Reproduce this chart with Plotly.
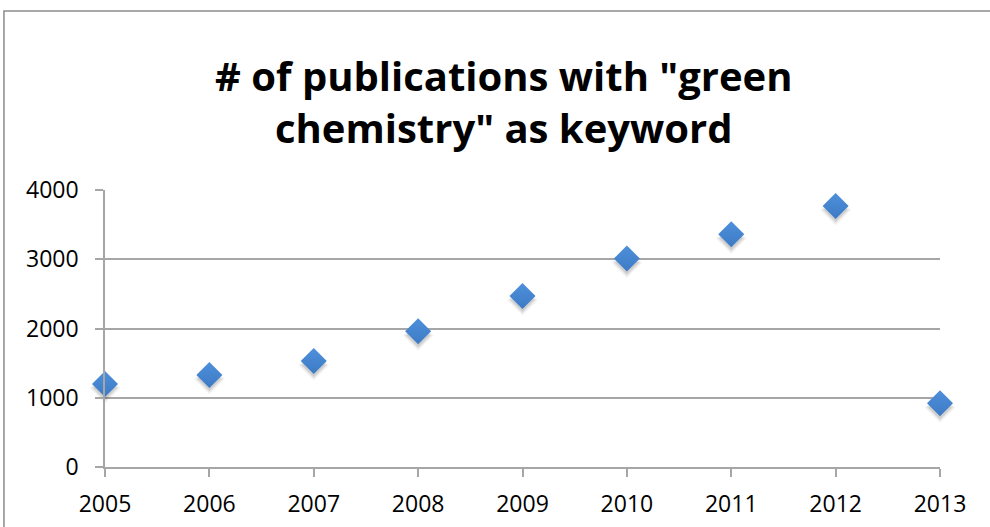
import plotly.graph_objects as go

# Publications per year with "green chemistry" as keyword
years = [2005, 2006, 2007, 2008, 2009, 2010, 2011, 2012, 2013]
publications = [1200, 1330, 1530, 1960, 2470, 3010, 3360, 3770, 920]
y_ticks = [0, 1000, 2000, 3000, 4000]

title_lines = ['# of publications with "green', 'chemistry" as keyword']

font_family = "Open Sans, Liberation Sans, sans-serif"
grid_color = "#a6a6a6"
marker_top = "#4e90dc"
marker_bottom = "#3d7ac4"

fig = go.Figure()

# hover layer on the main axes (keeps the axes, ticks and grid drawn)
fig.add_trace(go.Scatter(
    x=years, y=publications, mode="markers",
    marker=dict(symbol="diamond", size=20, opacity=0),
    hovertemplate="%{x}: %{y}<extra></extra>", showlegend=False,
))

# soft drop shadow under each marker (drawn on slightly shifted overlay axes)
for size, alpha in [(24, 0.04), (21, 0.07), (18, 0.09)]:
    fig.add_trace(go.Scatter(
        x=years, y=publications, mode="markers",
        xaxis="x2", yaxis="y2", cliponaxis=False,
        marker=dict(symbol="diamond", size=size,
                    color=f"rgba(0,0,0,{alpha})", line=dict(width=0)),
        hoverinfo="skip", showlegend=False,
    ))

# the data markers, on an overlay stacked above the shadow layer
fig.add_trace(go.Scatter(
    x=years, y=publications, mode="markers", cliponaxis=False,
    xaxis="x3", yaxis="y3",
    marker=dict(symbol="diamond", size=20, color=marker_top,
                gradient=dict(type="vertical", color=marker_bottom),
                line=dict(width=0)),
    hoverinfo="skip", showlegend=False,
))

fig.update_layout(
    width=990, height=527,
    margin=dict(l=105, r=50, t=190, b=60, autoexpand=False),
    paper_bgcolor="white", plot_bgcolor="white",
    font=dict(family=font_family, color="black", size=23),
    xaxis=dict(
        range=[years[0], years[-1]], tickvals=years,
        ticktext=[str(y) for y in years],
        showgrid=False, zeroline=False, automargin=False,
        showline=True, linecolor=grid_color, linewidth=1.5,
        ticks="outside", ticklen=8, tickcolor=grid_color, tickwidth=1.5,
        tickfont=dict(size=23), ticklabelstandoff=8, fixedrange=True,
    ),
    yaxis=dict(
        range=[0, 4000], tickvals=y_ticks,
        showgrid=True, gridcolor=grid_color, gridwidth=1.5,
        zeroline=False, automargin=False,
        showline=True, linecolor=grid_color, linewidth=1.5,
        ticks="outside", ticklen=8, tickcolor=grid_color, tickwidth=1.5,
        tickfont=dict(size=23), ticklabelstandoff=12, fixedrange=True,
    ),
    xaxis2=dict(overlaying="x", range=[years[0], years[-1]],
                visible=False, fixedrange=True),
    yaxis2=dict(overlaying="y", range=[60, 4060], visible=False,
                fixedrange=True),
    xaxis3=dict(overlaying="x", range=[years[0], years[-1]],
                visible=False, fixedrange=True),
    yaxis3=dict(overlaying="y", range=[0, 4000], visible=False,
                fixedrange=True),
)

# two-line bold title
for i, line in enumerate(title_lines):
    fig.add_annotation(
        text=f"<b>{line}</b>", xref="paper", yref="paper",
        x=0.478, y=1.415 - i * 0.191, xanchor="center", yanchor="middle",
        showarrow=False, font=dict(size=40, family=font_family, color="black"),
    )

# chart-area frame
fig.add_shape(
    type="rect", xref="paper", yref="paper",
    x0=-0.121, x1=1.2, y0=-0.3, y1=1.646,
    line=dict(color="#8c8c8c", width=1.5), fillcolor="rgba(0,0,0,0)",
    layer="below",
)

fig.write_html("out.html")
